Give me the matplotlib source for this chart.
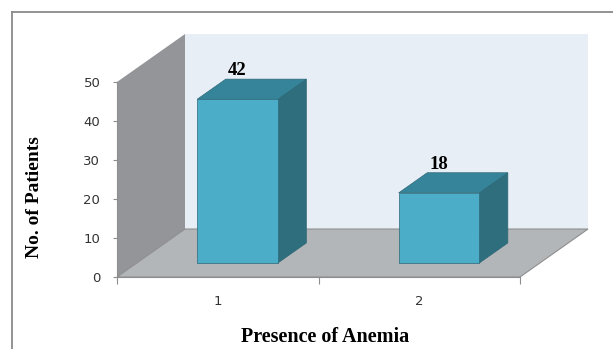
import numpy as np
import matplotlib
matplotlib.use('Agg')
import matplotlib.pyplot as plt
from matplotlib.patches import Polygon
from matplotlib.lines import Line2D

categories = ['1', '2']
patients = [42, 18]
yticks = [0, 10, 20, 30, 40, 50]

# depth of the box (category units / value units) and bar slab
DX, DY = 0.3375, 12.3
Z_FRONT, Z_BACK = 0.29, 0.71
HALF_W = 0.2

FRONT = '#4BADC7'
TOP = '#36849A'
SIDE = '#2F6E7D'
EDGE = '#2C6878'

def proj(x, y, z):
    return (x + z * DX, y + z * DY)

def face(ax, pts, color, ec='none', lw=0.0, z=1):
    ax.add_patch(Polygon([proj(*p) for p in pts], closed=True, facecolor=color,
                         edgecolor=ec, linewidth=lw, clip_on=False, zorder=z))

fig = plt.figure(figsize=(6.13, 3.49), dpi=100)
ax = fig.add_axes([117 / 613, 1 - 277 / 349, 403 / 613, 195 / 349])
ax.set_facecolor('none')
x0, x1 = 0.5, len(categories) + 0.5
ax.set_xlim(x0, x1)
ax.set_ylim(0, 50)

# walls and floor
face(ax, [(x0, 0, 0), (x0, 50, 0), (x0, 50, 1), (x0, 0, 1)], '#939598', z=0)
face(ax, [(x0, 0, 1), (x1, 0, 1), (x1, 50, 1), (x0, 50, 1)], '#E7EEF5', z=0)
face(ax, [(x0, 0, 0), (x1, 0, 0), (x1, 0, 1), (x0, 0, 1)], '#B3B6B9',
     ec='#8E8E8E', lw=0.8, z=0.5)

# 3D bars
for i, v in enumerate(patients):
    c = i + 1
    l, r = c - HALF_W, c + HALF_W
    face(ax, [(r, 0, Z_FRONT), (r, 0, Z_BACK), (r, v, Z_BACK), (r, v, Z_FRONT)],
         SIDE, ec=EDGE, lw=0.5, z=2)
    face(ax, [(l, v, Z_FRONT), (r, v, Z_FRONT), (r, v, Z_BACK), (l, v, Z_BACK)],
         TOP, ec=EDGE, lw=0.5, z=2)
    face(ax, [(l, 0, Z_FRONT), (r, 0, Z_FRONT), (r, v, Z_FRONT), (l, v, Z_FRONT)],
         FRONT, ec=EDGE, lw=0.5, z=3)
    tx, ty = proj(c, v, Z_BACK)
    ax.annotate(str(v), (c + Z_FRONT * DX, ty), xytext=(0, 0), textcoords='offset points',
                ha='center', va='bottom', fontsize=13.5, fontweight='bold',
                family='Liberation Serif', color='black', annotation_clip=False, zorder=5)

for s in ['top', 'right']:
    ax.spines[s].set_visible(False)
for s in ['left', 'bottom']:
    ax.spines[s].set_color('#8E8E8E')
    ax.spines[s].set_linewidth(0.8)
    ax.spines[s].set_zorder(4)

ax.set_yticks(yticks)
ax.set_yticklabels([str(t) for t in yticks])
ax.tick_params(axis='y', length=3, width=0.8, color='#8E8E8E', pad=9,
               labelsize=9.5, labelcolor='#333333')
ax.set_xticks(np.arange(x0, x1 + 0.01, 1.0))
ax.set_xticklabels([])
ax.set_xticks(np.arange(1, len(categories) + 1), minor=True)
ax.set_xticklabels(categories, minor=True)
ax.tick_params(axis='x', which='major', length=5, width=0.8, color='#8E8E8E')
ax.tick_params(axis='x', which='minor', length=0, pad=13,
               labelsize=9.5, labelcolor='#333333')

ax.set_xlabel('Presence of Anemia', fontsize=14.5, fontweight='bold',
              family='Liberation Serif', va='center')
ax.xaxis.set_label_coords(0.516, -0.308)
ax.set_ylabel('No. of Patients', fontsize=14, fontweight='bold',
              family='Liberation Serif', va='center')
ax.yaxis.set_label_coords(-0.2035, 0.41)

# chart frame
fig.add_artist(Line2D([11.5 / 613, 11.5 / 613], [0, 1 - 12 / 349],
                      transform=fig.transFigure, color='#8A8A8A', lw=1.3))
fig.add_artist(Line2D([11.5 / 613, 1], [1 - 12 / 349, 1 - 12 / 349],
                      transform=fig.transFigure, color='#8A8A8A', lw=1.3))

fig.savefig('out.png', dpi=100)
